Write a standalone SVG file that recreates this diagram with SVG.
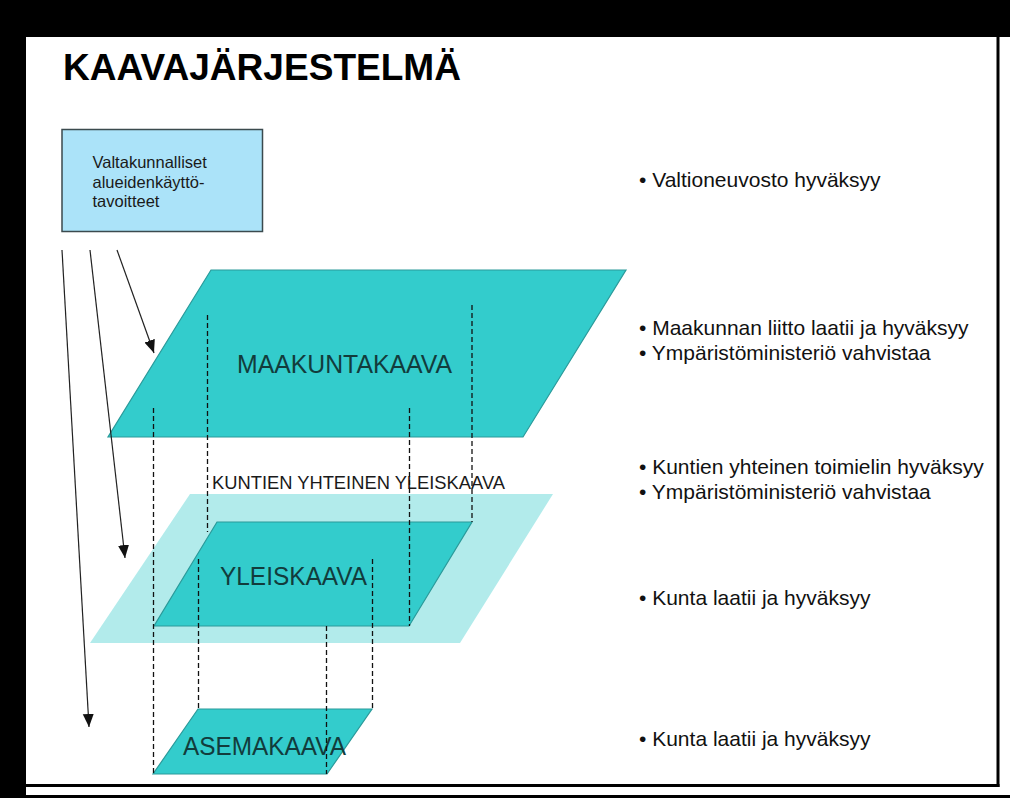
<svg xmlns="http://www.w3.org/2000/svg" width="1023" height="798" viewBox="0 0 1023 798">
  <defs>
    <marker id="ah" markerUnits="userSpaceOnUse" markerWidth="14" markerHeight="14" viewBox="0 0 14 14" refX="13" refY="7" orient="auto">
      <path d="M0,1.5 L13,7 L0,12.5 Z" fill="#111"/>
    </marker>
    <style>
      .frame{fill:#000}
      .lbl{font-family:"Liberation Sans",Arial,sans-serif;fill:#123c3c}
      .note{font-family:"Liberation Sans",Arial,sans-serif;font-size:21px;fill:#111}
      .dash{stroke:#111;stroke-width:1.3;stroke-dasharray:5 3;fill:none}
      .arr{stroke:#222;stroke-width:1.2;fill:none;marker-end:url(#ah)}
      .teal{fill:#33CCCC;stroke:#2a9a9a;stroke-width:1.2}
    </style>
  </defs>
  <rect width="1023" height="798" fill="#fff"/>
  <!-- frame -->
  <g id="frame">
    <rect class="frame" x="0" y="0" width="1010" height="37"/>
    <rect class="frame" x="0" y="0" width="26" height="798"/>
    <rect class="frame" x="996.5" y="37" width="3" height="750"/>
    <rect class="frame" x="26" y="784" width="973.5" height="3"/>
    <rect class="frame" x="26" y="795" width="984" height="3"/>
  </g>
  <text id="title" x="63" y="80" font-family="Liberation Sans, Arial, sans-serif" font-weight="bold" font-size="37" textLength="398" lengthAdjust="spacingAndGlyphs" fill="#000">KAAVAJÄRJESTELMÄ</text>

  <g id="tavoitteet">
    <rect x="62" y="129.5" width="200.5" height="102" fill="#ABE3F9" stroke="#3b4a4e" stroke-width="1.5"/>
    <text class="lbl" font-size="16.5" fill="#1a1a1a" style="fill:#1a1a1a">
      <tspan x="92.5" y="168">Valtakunnalliset</tspan>
      <tspan x="92.5" y="187.5">alueidenkäyttö-</tspan>
      <tspan x="92.5" y="207">tavoitteet</tspan>
    </text>
  </g>

  <g id="maakuntakaava">
    <polygon class="teal" points="211,270 626,270 523,437 108,437"/>
    <text class="lbl" x="237" y="373" font-size="25" textLength="215" lengthAdjust="spacingAndGlyphs">MAAKUNTAKAAVA</text>
  </g>

  <g id="kuntien-yhteinen-yleiskaava">
    <polygon points="190,494 553,494 460,643 90,643" fill="#B2EBEB"/>
    <text x="212" y="489" font-family="Liberation Sans, Arial, sans-serif" font-size="18" fill="#1a1a1a" textLength="293" lengthAdjust="spacingAndGlyphs">KUNTIEN YHTEINEN YLEISKAAVA</text>
  </g>

  <g id="yleiskaava">
    <polygon class="teal" points="217,522 472,522 409,626 154,626"/>
    <text class="lbl" x="220" y="585" font-size="25" textLength="147" lengthAdjust="spacingAndGlyphs">YLEISKAAVA</text>
  </g>

  <g id="asemakaava">
    <polygon class="teal" points="198,709 372,709 327,774 153,774"/>
    <text class="lbl" x="183" y="755" font-size="25" textLength="163" lengthAdjust="spacingAndGlyphs">ASEMAKAAVA</text>
  </g>

  <g id="connectors">
    <line class="arr" x1="62" y1="250" x2="89" y2="727"/>
    <line class="arr" x1="90" y1="250" x2="125" y2="558"/>
    <line class="arr" x1="117" y1="250" x2="154" y2="353"/>
    <line class="dash" x1="153.5" y1="408" x2="153.5" y2="774"/>
    <line class="dash" x1="207.5" y1="315" x2="207.5" y2="532"/>
    <line class="dash" x1="409.5" y1="408" x2="409.5" y2="626"/>
    <line class="dash" x1="472" y1="305" x2="472" y2="522"/>
    <line class="dash" x1="198.5" y1="559" x2="198.5" y2="709"/>
    <line class="dash" x1="372.5" y1="559" x2="372.5" y2="709"/>
    <line class="dash" x1="326.5" y1="626" x2="326.5" y2="774"/>
  </g>

  <g id="notes">
    <text class="note" x="639" y="187">• Valtioneuvosto hyväksyy</text>
    <text class="note" x="639" y="335">• Maakunnan liitto laatii ja hyväksyy</text>
    <text class="note" x="639" y="360">• Ympäristöministeriö vahvistaa</text>
    <text class="note" x="639" y="474">• Kuntien yhteinen toimielin hyväksyy</text>
    <text class="note" x="639" y="499">• Ympäristöministeriö vahvistaa</text>
    <text class="note" x="639" y="605">• Kunta laatii ja hyväksyy</text>
    <text class="note" x="639" y="746">• Kunta laatii ja hyväksyy</text>
  </g>
</svg>
